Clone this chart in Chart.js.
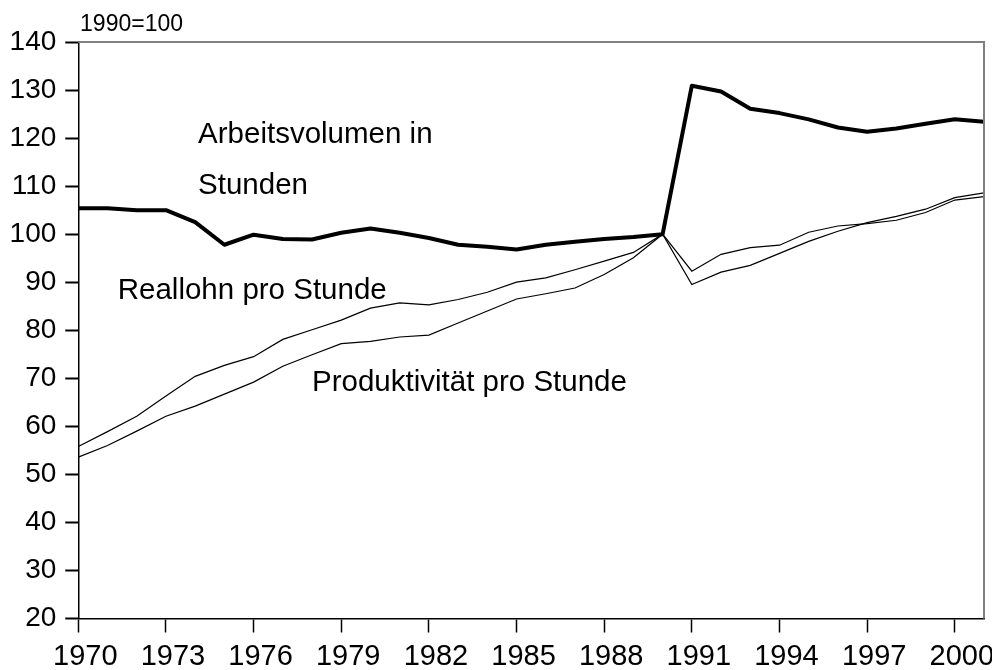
<!DOCTYPE html>
<html lang="de">
  <head>
    <meta charset="UTF-8" />
    <script src="https://cdn.jsdelivr.net/npm/chart.js@4.4.0/dist/chart.umd.min.js"></script>
    <title>Arbeitsvolumen, Reallohn und Produktivität</title>
    <style>
      html, body { margin: 0; padding: 0; background: #fff; }
      .wrap { width: 992px; height: 670px; position: relative; }
    </style>
  </head>
  <body>
    <div class="wrap"><canvas id="myChart"></canvas></div>
    <script>
      const years = [];
      for (let y = 1970; y <= 2001; y++) years.push(y);
      const yearTicks = [1970, 1973, 1976, 1979, 1982, 1985, 1988, 1991, 1994, 1997, 2000];

      const arbeitsvolumen = [105.4, 105.4, 105.0, 105.0, 102.5, 97.8, 99.9, 99.0, 98.9, 100.3,
        101.2, 100.3, 99.2, 97.8, 97.4, 96.8, 97.8, 98.4, 99.0, 99.4,
        100.0, 130.9, 129.7, 126.1, 125.2, 123.9, 122.2, 121.3, 122.0, 123.0,
        123.9, 123.4];
      const reallohn = [55.8, 58.9, 62.1, 66.3, 70.4, 72.7, 74.5, 78.1, 80.1, 82.1,
        84.6, 85.7, 85.3, 86.4, 87.9, 90.0, 90.9, 92.6, 94.4, 96.2,
        100.0, 92.3, 95.8, 97.2, 97.7, 100.4, 101.7, 102.2, 102.9, 104.5,
        107.1, 107.8];
      const produktivitaet = [53.6, 56.0, 59.0, 62.1, 64.2, 66.7, 69.2, 72.5, 74.9, 77.2,
        77.7, 78.6, 79.0, 81.5, 84.0, 86.5, 87.6, 88.8, 91.6, 95.1,
        100.0, 89.5, 92.1, 93.5, 96.0, 98.5, 100.6, 102.4, 103.7, 105.2,
        107.6, 108.6];

      // text labels inside the plot, placed in data units
      const notes = [
        { text: "Arbeitsvolumen in", x: 1974.1, y: 119.0, size: 29.5 },
        { text: "Stunden", x: 1974.1, y: 108.3, size: 29.5 },
        { text: "Reallohn pro Stunde", x: 1971.35, y: 86.5, size: 29.5 },
        { text: "Produktivität pro Stunde", x: 1978.0, y: 67.3, size: 29.5 },
        { text: "1990=100", x: 1970.06, y: 142.3, size: 23 }
      ];

      const FONT = "'Liberation Sans', Arial, sans-serif";

      const toPoints = (arr) => arr.map((v, i) => ({ x: years[i], y: v }));

      const notesPlugin = {
        id: "notes",
        afterDraw(chart) {
          const ctx = chart.ctx;
          const xs = chart.scales.x, ys = chart.scales.y;
          const a = chart.chartArea;
          ctx.save();
          // grey frame on top and right
          ctx.strokeStyle = "#808080";
          ctx.lineWidth = 2;
          ctx.beginPath();
          ctx.moveTo(a.left, a.top);
          ctx.lineTo(a.right, a.top);
          ctx.lineTo(a.right, a.bottom);
          ctx.stroke();
          ctx.fillStyle = "#000";
          ctx.textBaseline = "alphabetic";
          ctx.textAlign = "left";
          notes.forEach((n) => {
            ctx.font = n.size + "px " + FONT;
            ctx.fillText(n.text, xs.getPixelForValue(n.x), ys.getPixelForValue(n.y));
          });
          ctx.restore();
        }
      };

      const thin = { borderColor: "#000", borderWidth: 1.2, pointRadius: 0, tension: 0, fill: false };

      new Chart(document.getElementById("myChart").getContext("2d"), {
        type: "line",
        data: {
          datasets: [
            { label: "Arbeitsvolumen in Stunden", data: toPoints(arbeitsvolumen),
              borderColor: "#000", borderWidth: 4, pointRadius: 0, tension: 0, fill: false,
              borderJoinStyle: "round" },
            Object.assign({ label: "Reallohn pro Stunde", data: toPoints(reallohn) }, thin),
            Object.assign({ label: "Produktivität pro Stunde", data: toPoints(produktivitaet) }, thin)
          ]
        },
        options: {
          responsive: true,
          maintainAspectRatio: false,
          animation: false,
          layout: { padding: { top: 42, right: 8, left: 0, bottom: 0 } },
          plugins: { legend: { display: false }, tooltip: { enabled: false } },
          scales: {
            x: {
              type: "linear",
              min: 1970,
              max: 2001,
              afterBuildTicks: (s) => { s.ticks = yearTicks.map((v) => ({ value: v })); },
              afterFit: (s) => { s.height = 51.5; s.paddingLeft = 0; s.paddingRight = 0; },
              border: { display: true, color: "#000", width: 1.5 },
              grid: { drawOnChartArea: false, drawTicks: true, tickLength: 14, tickColor: "#000", tickWidth: 1.5 },
              ticks: { color: "#000", padding: 7, labelOffset: 7, maxRotation: 0,
                font: { family: FONT, size: 29 }, callback: (v) => String(v) }
            },
            y: {
              min: 20,
              max: 140,
              afterFit: (s) => { s.width = 78.3; },
              border: { display: true, color: "#000", width: 1.5 },
              grid: { drawOnChartArea: false, drawTicks: true, tickLength: 13, tickColor: "#000", tickWidth: 2 },
              ticks: { stepSize: 10, color: "#000", padding: 9, font: { family: FONT, size: 28 } }
            }
          }
        },
        plugins: [notesPlugin]
      });
    </script>
  </body>
</html>
